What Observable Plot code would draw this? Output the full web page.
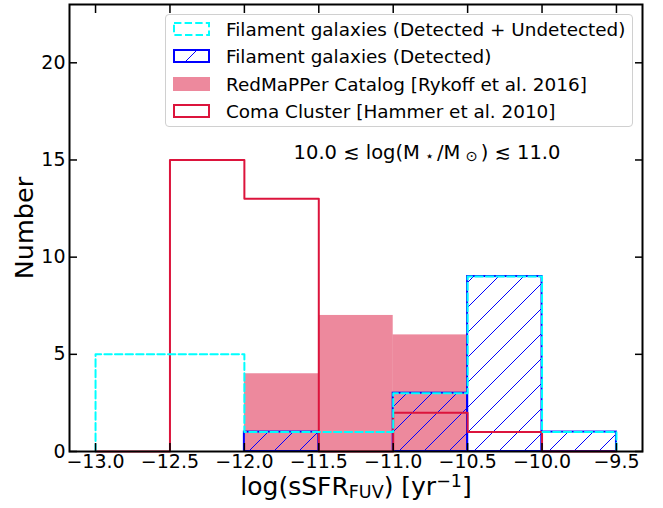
<!DOCTYPE html>
<html><head><meta charset="utf-8">
<script src="https://cdn.jsdelivr.net/npm/d3@7"></script>
<script src="https://cdn.jsdelivr.net/npm/@observablehq/plot@0.6"></script>
<style>
body{margin:0;background:#fff;font-family:"DejaVu Sans",sans-serif;}
#wrap{position:relative;width:663px;height:508px;}
#legend{position:absolute;left:165px;top:14px;width:468px;height:113px;border:1px solid #d0d0d0;border-radius:4px;background:rgba(255,255,255,0.8);box-sizing:border-box;}
.row{position:absolute;left:7px;height:20px;display:flex;align-items:center;font-size:18.4px;white-space:nowrap;color:#000;}
.row svg{margin-right:16px;}
</style>
</head><body><div id="wrap"></div>
<script>
// Bin edges of log(sSFR_FUV)
const binEdges = [-13.0, -12.5, -12.0, -11.5, -11.0, -10.5, -10.0, -9.5];
// Counts per bin
const filamentAll = [5, 5, 1, 1, 3, 9, 1];        // Detected + Undetected
const filamentDetected = [0, 0, 1, 0, 3, 9, 1];   // Detected
const redmapper = [0, 0, 4, 7, 6, 0, 0];          // RedMaPPer Catalog
const coma = [0, 15, 13, 0, 2, 1, 0];             // Coma Cluster
const xTicks = [-13.0, -12.5, -12.0, -11.5, -11.0, -10.5, -10.0, -9.5];
const yTicks = [0, 5, 10, 15, 20];
const legendLabels = [
  "Filament galaxies (Detected + Undetected)",
  "Filament galaxies (Detected)",
  "RedMaPPer Catalog [Rykoff et al. 2016]",
  "Coma Cluster [Hammer et al. 2010]"
];

const bars = counts => counts.map((c, i) => ({x1: binEdges[i], x2: binEdges[i + 1], y: c})).filter(d => d.y > 0);
const steps = counts => {
  const pts = [{x: binEdges[0], y: 0}];
  counts.forEach((c, i) => { pts.push({x: binEdges[i], y: c}, {x: binEdges[i + 1], y: c}); });
  pts.push({x: binEdges[binEdges.length - 1], y: 0});
  return pts;
};
const fmt = d3.format(".1f");

const chart = Plot.plot({
  width: 663, height: 508,
  marginLeft: 69, marginRight: 21, marginTop: 4, marginBottom: 57,
  style: {fontFamily: "DejaVu Sans", fontSize: "19px", color: "#000", background: "#fff"},
  x: {domain: [-13.175, -9.325]},
  y: {domain: [0, 23]},
  marks: [
    Plot.rect(bars(redmapper), {x1: "x1", x2: "x2", y1: d => 0, y2: "y", fill: "#dc143c", fillOpacity: 0.5}),
    Plot.rect(bars(filamentDetected), {x1: "x1", x2: "x2", y1: d => 0, y2: "y", fill: "url(#hatch)", stroke: "#0000ff", strokeWidth: 2}),
    Plot.line(steps(coma), {x: "x", y: "y", stroke: "#dc143c", strokeWidth: 2, curve: "linear"}),
    Plot.line(steps(filamentAll), {x: "x", y: "y", stroke: "#00ffff", strokeWidth: 2, strokeDasharray: "7.4,3.2", curve: "linear"}),
    Plot.frame({stroke: "#000", strokeWidth: 2}),
    Plot.axisX(xTicks, {anchor: "bottom", tickSize: -8, tickPadding: 11, tickFormat: fmt, label: null, strokeWidth: 1.5}),
    Plot.axisX(xTicks, {anchor: "top", tickSize: -8, tickFormat: () => "", label: null, strokeWidth: 1.5}),
    Plot.axisY(yTicks, {anchor: "left", tickSize: -8, tickPadding: 12, tickFormat: d => String(d), label: null, strokeWidth: 1.5}),
    Plot.axisY(yTicks, {anchor: "right", tickSize: -8, tickFormat: () => "", label: null, strokeWidth: 1.5}),
    Plot.text(["MASSLABEL"], {frameAnchor: "top", lineAnchor: "middle", textAnchor: "middle", dx: 71, dy: 148, fontSize: 19.5}),
    Plot.text(["Number"], {frameAnchor: "left", lineAnchor: "middle", textAnchor: "middle", rotate: -90, dx: -45, fontSize: 25.5}),
    Plot.text(["XLABEL"], {frameAnchor: "bottom", lineAnchor: "middle", textAnchor: "middle", dy: 35, fontSize: 25})
  ]
});

// hatch pattern definition
const ns = "http://www.w3.org/2000/svg";
const defs = document.createElementNS(ns, "defs");
defs.innerHTML = '<pattern id="hatch" patternUnits="userSpaceOnUse" width="25" height="25"><path d="M-5,5L5,-5M0,25L25,0M20,30L30,20" stroke="#0000ff" stroke-width="1" fill="none"/></pattern>';
chart.insertBefore(defs, chart.firstChild);

// labels with sub/superscripts
for (const t of chart.querySelectorAll("text")) {
  if (t.textContent === "XLABEL") {
    t.innerHTML = 'log(sSFR<tspan dy="0.2em" font-size="0.7em">FUV</tspan><tspan dy="-0.14em">) [yr</tspan><tspan dy="-0.45em" font-size="0.7em">\u22121</tspan><tspan dy="0.315em">]</tspan>';
  } else if (t.textContent === "MASSLABEL") {
    t.innerHTML = '10.0 \u2272 log(M<tspan dx="5" dy="0.12em" font-size="0.75em">\u22c6</tspan><tspan dx="3" dy="-0.09em">/M</tspan><tspan dx="5" dy="0.15em" font-size="0.75em">\u2299</tspan><tspan dx="3" dy="-0.112em">) \u2272 11.0</tspan>';
  }
}

const wrap = document.getElementById("wrap");
wrap.appendChild(chart);

// legend inside the axes
const legend = document.createElement("div");
legend.id = "legend";
const swatches = [
  '<rect x="1" y="1" width="35" height="12" fill="none" stroke="#00ffff" stroke-width="2" stroke-dasharray="7.4,3.2"/>',
  '<rect x="1" y="1" width="35" height="12" fill="none" stroke="#0000ff" stroke-width="2"/><path d="M12,13L24,1" stroke="#0000ff" stroke-width="1"/>',
  '<rect x="0" y="0" width="37" height="14" fill="#dc143c" fill-opacity="0.5"/>',
  '<rect x="1" y="1" width="35" height="12" fill="none" stroke="#dc143c" stroke-width="2"/>'
];
const rowTops = [4, 31, 59, 86];
legendLabels.forEach((lab, i) => {
  const r = document.createElement("div");
  r.className = "row";
  r.style.top = rowTops[i] + "px";
  r.innerHTML = '<svg width="37" height="14">' + swatches[i] + '</svg><span>' + lab + '</span>';
  legend.appendChild(r);
});
wrap.appendChild(legend);
</script>
</body></html>
